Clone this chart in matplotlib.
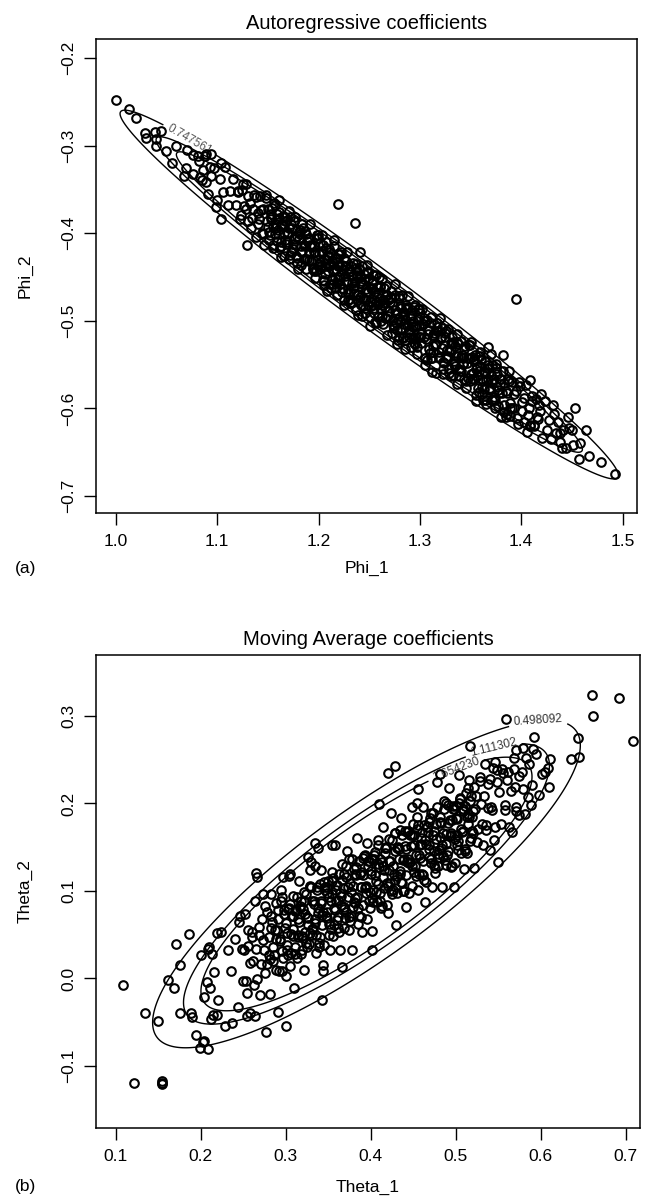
import numpy as np
import matplotlib
matplotlib.use("Agg")
import matplotlib.pyplot as plt

plt.rcParams['font.family'] = ['Liberation Sans', 'DejaVu Sans']

# ---------------- Panel (a): autoregressive coefficients (Phi_1, Phi_2) ----------------
ar_upper_tail = [
    (1.000, -0.248), (1.013, -0.258), (1.020, -0.268), (1.029, -0.286), (1.039, -0.285),
    (1.044, -0.283), (1.030, -0.291), (1.040, -0.292), (1.040, -0.301), (1.049, -0.306),
    (1.059, -0.301), (1.070, -0.305), (1.055, -0.320), (1.076, -0.311), (1.081, -0.312),
    (1.089, -0.310), (1.094, -0.310), (1.069, -0.325), (1.067, -0.335), (1.076, -0.332),
    (1.083, -0.336), (1.086, -0.328), (1.093, -0.324), (1.104, -0.320), (1.089, -0.341),
    (1.099, -0.370), (1.104, -0.384), (1.129, -0.413), (1.219, -0.367), (1.236, -0.388),
    (1.395, -0.475),
]
ar_lower_tail = [
    (1.453, -0.600), (1.464, -0.625), (1.451, -0.642), (1.440, -0.645), (1.457, -0.658),
    (1.467, -0.654), (1.479, -0.661), (1.493, -0.675), (1.438, -0.628), (1.450, -0.625),
    (1.431, -0.596), (1.420, -0.583), (1.458, -0.640), (1.446, -0.610),
    (1.305, -0.550), (1.312, -0.558), (1.277, -0.526), (1.239, -0.493), (1.362, -0.590),
    (1.389, -0.609), (1.409, -0.619), (1.241, -0.421), (1.367, -0.530), (1.382, -0.539),
    (1.409, -0.568),
]
ar_band_1 = [
    (1.082, -0.317), (1.085, -0.339), (1.088, -0.312), (1.091, -0.355), (1.094, -0.335),
    (1.097, -0.326), (1.100, -0.362), (1.103, -0.338), (1.106, -0.353), (1.108, -0.324),
    (1.111, -0.368), (1.113, -0.352), (1.116, -0.338), (1.118, -0.368), (1.120, -0.353),
    (1.122, -0.384), (1.124, -0.351), (1.126, -0.369), (1.128, -0.344), (1.130, -0.386),
    (1.132, -0.365), (1.134, -0.383), (1.136, -0.356), (1.138, -0.404), (1.140, -0.377),
    (1.141, -0.384), (1.142, -0.358), (1.144, -0.400), (1.145, -0.372), (1.146, -0.414),
    (1.148, -0.356), (1.149, -0.386), (1.150, -0.372), (1.152, -0.402), (1.153, -0.384),
    (1.155, -0.414), (1.156, -0.366), (1.157, -0.401), (1.159, -0.378), (1.160, -0.396),
    (1.161, -0.362), (1.163, -0.415), (1.164, -0.390), (1.166, -0.426), (1.167, -0.381),
    (1.168, -0.412), (1.170, -0.400), (1.171, -0.375), (1.172, -0.425), (1.174, -0.394),
    (1.175, -0.412), (1.176, -0.386), (1.178, -0.426), (1.179, -0.403), (1.180, -0.441),
    (1.182, -0.396), (1.183, -0.422), (1.184, -0.389), (1.186, -0.429), (1.187, -0.415),
    (1.188, -0.441), (1.190, -0.407), (1.191, -0.423), (1.192, -0.390), (1.194, -0.440),
    (1.195, -0.415), (1.196, -0.451), (1.198, -0.406), (1.199, -0.437), (1.200, -0.424),
]
ar_band_2 = [
    (1.201, -0.411), (1.202, -0.437), (1.203, -0.402), (1.204, -0.453), (1.205, -0.429),
    (1.206, -0.447), (1.207, -0.410), (1.208, -0.466), (1.209, -0.425), (1.210, -0.438),
    (1.211, -0.422), (1.212, -0.463), (1.213, -0.432), (1.214, -0.458), (1.215, -0.408),
    (1.216, -0.451), (1.217, -0.441), (1.218, -0.471), (1.219, -0.424), (1.220, -0.450),
    (1.221, -0.458), (1.222, -0.421), (1.223, -0.467), (1.224, -0.442), (1.225, -0.482),
    (1.226, -0.437), (1.227, -0.455), (1.228, -0.422), (1.229, -0.468), (1.230, -0.444),
    (1.231, -0.480), (1.232, -0.438), (1.233, -0.457), (1.234, -0.434), (1.235, -0.468),
    (1.236, -0.454), (1.237, -0.488), (1.238, -0.448), (1.239, -0.469), (1.240, -0.441),
    (1.241, -0.457), (1.242, -0.482), (1.243, -0.437), (1.244, -0.474), (1.245, -0.452),
    (1.246, -0.491), (1.247, -0.467), (1.248, -0.436), (1.249, -0.482), (1.250, -0.451),
    (1.251, -0.506), (1.252, -0.462), (1.253, -0.479), (1.254, -0.448), (1.255, -0.491),
    (1.256, -0.467), (1.257, -0.503), (1.258, -0.461), (1.259, -0.481), (1.260, -0.450),
    (1.261, -0.461), (1.262, -0.487), (1.263, -0.452), (1.264, -0.504), (1.265, -0.480),
    (1.266, -0.497), (1.267, -0.460), (1.268, -0.516), (1.269, -0.475), (1.270, -0.489),
    (1.271, -0.473), (1.272, -0.514), (1.273, -0.482), (1.274, -0.508), (1.275, -0.458),
    (1.276, -0.502), (1.277, -0.492), (1.278, -0.522), (1.279, -0.474), (1.280, -0.500),
    (1.281, -0.508), (1.282, -0.471), (1.283, -0.518), (1.284, -0.493), (1.285, -0.532),
    (1.286, -0.487), (1.287, -0.505), (1.288, -0.472), (1.289, -0.519), (1.290, -0.495),
    (1.291, -0.530), (1.292, -0.488), (1.293, -0.507), (1.294, -0.484), (1.295, -0.519),
    (1.296, -0.505), (1.297, -0.538), (1.298, -0.498), (1.299, -0.519), (1.300, -0.491),
]
ar_band_3 = [
    (1.302, -0.486), (1.304, -0.518), (1.305, -0.500), (1.307, -0.545), (1.308, -0.511),
    (1.310, -0.537), (1.311, -0.496), (1.313, -0.529), (1.314, -0.514), (1.316, -0.560),
    (1.317, -0.507), (1.319, -0.541), (1.320, -0.497), (1.322, -0.531), (1.323, -0.555),
    (1.325, -0.519), (1.326, -0.543), (1.328, -0.509), (1.329, -0.555), (1.331, -0.533),
    (1.332, -0.518), (1.334, -0.549), (1.335, -0.529), (1.337, -0.572), (1.338, -0.540),
    (1.340, -0.557), (1.341, -0.523), (1.343, -0.549), (1.344, -0.532), (1.346, -0.577),
    (1.347, -0.542), (1.349, -0.569), (1.350, -0.524), (1.352, -0.560), (1.353, -0.544),
    (1.355, -0.591), (1.356, -0.553), (1.358, -0.581), (1.359, -0.536), (1.361, -0.575),
    (1.362, -0.569), (1.364, -0.546), (1.365, -0.595), (1.367, -0.567), (1.368, -0.579),
    (1.370, -0.538), (1.371, -0.590), (1.373, -0.566), (1.374, -0.599), (1.376, -0.561),
    (1.377, -0.579), (1.379, -0.567), (1.380, -0.610), (1.382, -0.557), (1.383, -0.596),
    (1.385, -0.580), (1.386, -0.606), (1.388, -0.557), (1.389, -0.594), (1.391, -0.570),
    (1.393, -0.600), (1.395, -0.580), (1.397, -0.618), (1.399, -0.574),
    (1.401, -0.593), (1.403, -0.615), (1.405, -0.573), (1.407, -0.607), (1.409, -0.620),
    (1.411, -0.592), (1.413, -0.619), (1.415, -0.589), (1.417, -0.612), (1.419, -0.603),
    (1.421, -0.634), (1.423, -0.591), (1.425, -0.625), (1.427, -0.613), (1.429, -0.635),
    (1.432, -0.606), (1.434, -0.628), (1.436, -0.615), (1.438, -0.638), (1.441, -0.625),
    (1.444, -0.645), (1.447, -0.622),
]
ar_band_4 = [
    (1.151, -0.408), (1.153, -0.382), (1.155, -0.393), (1.157, -0.368), (1.159, -0.409),
    (1.161, -0.383), (1.163, -0.427), (1.165, -0.380), (1.167, -0.408), (1.169, -0.400),
    (1.171, -0.429), (1.173, -0.389), (1.175, -0.418), (1.177, -0.381), (1.179, -0.428),
    (1.181, -0.407), (1.183, -0.415), (1.185, -0.394), (1.187, -0.430), (1.189, -0.409),
    (1.191, -0.406), (1.193, -0.432), (1.195, -0.421), (1.197, -0.443), (1.199, -0.405),
    (1.201, -0.433), (1.203, -0.423), (1.205, -0.455), (1.207, -0.417), (1.209, -0.443),
    (1.211, -0.436), (1.213, -0.453), (1.215, -0.415), (1.217, -0.462), (1.219, -0.438),
    (1.221, -0.448), (1.223, -0.436), (1.225, -0.476), (1.227, -0.432), (1.229, -0.464),
    (1.231, -0.475), (1.233, -0.449), (1.235, -0.460), (1.237, -0.435), (1.239, -0.476),
    (1.241, -0.450), (1.243, -0.494), (1.245, -0.447), (1.247, -0.476), (1.249, -0.467),
    (1.251, -0.496), (1.253, -0.457), (1.255, -0.485), (1.257, -0.448), (1.259, -0.496),
    (1.261, -0.474), (1.263, -0.482), (1.265, -0.462), (1.267, -0.497), (1.269, -0.476),
    (1.271, -0.474), (1.273, -0.499), (1.275, -0.488), (1.277, -0.510), (1.279, -0.472),
    (1.281, -0.500), (1.283, -0.490), (1.285, -0.522), (1.287, -0.484), (1.289, -0.510),
    (1.291, -0.503), (1.293, -0.520), (1.295, -0.482), (1.297, -0.530), (1.299, -0.505),
    (1.301, -0.515), (1.303, -0.504), (1.305, -0.543), (1.307, -0.499), (1.309, -0.532),
    (1.311, -0.542), (1.313, -0.516), (1.315, -0.528), (1.317, -0.502), (1.319, -0.543),
    (1.321, -0.518), (1.323, -0.561), (1.325, -0.514), (1.327, -0.543), (1.329, -0.534),
    (1.331, -0.563), (1.333, -0.524), (1.335, -0.552), (1.337, -0.515), (1.339, -0.563),
    (1.341, -0.541), (1.343, -0.549), (1.345, -0.529), (1.347, -0.565), (1.349, -0.543),
    (1.351, -0.541), (1.353, -0.567), (1.355, -0.555), (1.357, -0.577), (1.359, -0.540),
    (1.361, -0.567), (1.363, -0.557), (1.365, -0.590), (1.367, -0.551), (1.369, -0.577),
    (1.371, -0.571), (1.373, -0.587), (1.375, -0.549), (1.377, -0.597), (1.379, -0.572),
    (1.381, -0.582), (1.383, -0.571), (1.385, -0.610), (1.387, -0.566), (1.389, -0.599),
]
ar_band_5 = [
    (1.1205, -0.352), (1.1230, -0.379), (1.1255, -0.344), (1.1280, -0.372), (1.1305, -0.357),
    (1.1330, -0.394), (1.1355, -0.372), (1.1380, -0.359), (1.1405, -0.389), (1.1430, -0.374),
    (1.1455, -0.401), (1.1480, -0.360), (1.1505, -0.393), (1.1530, -0.378), (1.1555, -0.417),
    (1.1580, -0.389), (1.1605, -0.376), (1.1630, -0.410), (1.1655, -0.400), (1.1680, -0.386),
    (1.1705, -0.394), (1.1730, -0.421), (1.1755, -0.386), (1.1780, -0.414), (1.1805, -0.399),
    (1.1830, -0.436), (1.1855, -0.414), (1.1880, -0.401), (1.1905, -0.431), (1.1930, -0.416),
    (1.1955, -0.443), (1.1980, -0.402), (1.2005, -0.435), (1.2030, -0.420), (1.2055, -0.459),
    (1.2080, -0.431), (1.2105, -0.418), (1.2130, -0.452), (1.2155, -0.442), (1.2180, -0.428),
    (1.2205, -0.436), (1.2230, -0.463), (1.2255, -0.428), (1.2280, -0.456), (1.2305, -0.441),
    (1.2330, -0.478), (1.2355, -0.456), (1.2380, -0.443), (1.2405, -0.473), (1.2430, -0.458),
    (1.2455, -0.485), (1.2480, -0.444), (1.2505, -0.477), (1.2530, -0.462), (1.2555, -0.501),
    (1.2580, -0.473), (1.2605, -0.460), (1.2630, -0.494), (1.2655, -0.484), (1.2680, -0.470),
    (1.2705, -0.478), (1.2730, -0.505), (1.2755, -0.470), (1.2780, -0.498), (1.2805, -0.483),
    (1.2830, -0.520), (1.2855, -0.498), (1.2880, -0.485), (1.2905, -0.515), (1.2930, -0.500),
    (1.2955, -0.527), (1.2980, -0.486), (1.3005, -0.519), (1.3030, -0.504), (1.3055, -0.543),
    (1.3080, -0.515), (1.3105, -0.502), (1.3130, -0.536), (1.3155, -0.526), (1.3180, -0.512),
    (1.3205, -0.520), (1.3230, -0.547), (1.3255, -0.512), (1.3280, -0.540), (1.3305, -0.525),
    (1.3330, -0.562), (1.3355, -0.540), (1.3380, -0.527), (1.3405, -0.557), (1.3430, -0.542),
    (1.3455, -0.569), (1.3480, -0.528), (1.3505, -0.561), (1.3530, -0.546), (1.3555, -0.585),
    (1.3580, -0.557), (1.3605, -0.544), (1.3630, -0.578), (1.3655, -0.568), (1.3680, -0.554),
    (1.3705, -0.562), (1.3730, -0.589), (1.3755, -0.554), (1.3780, -0.582), (1.3805, -0.567),
    (1.3830, -0.604), (1.3855, -0.582), (1.3880, -0.569), (1.3905, -0.599), (1.3930, -0.584),
    (1.3955, -0.611), (1.3980, -0.570), (1.4005, -0.603), (1.4030, -0.588), (1.4055, -0.627),
    (1.4080, -0.599), (1.4105, -0.586), (1.4130, -0.620), (1.4155, -0.610), (1.4180, -0.596),
]
ar_band_6 = [
    (1.1515, -0.399), (1.1540, -0.371), (1.1565, -0.394), (1.1590, -0.384), (1.1615, -0.416),
    (1.1640, -0.392), (1.1665, -0.386), (1.1690, -0.410), (1.1715, -0.382), (1.1740, -0.422),
    (1.1765, -0.407), (1.1790, -0.434), (1.1815, -0.401), (1.1840, -0.420), (1.1865, -0.398),
    (1.1890, -0.429), (1.1915, -0.413), (1.1940, -0.441), (1.1965, -0.422), (1.1990, -0.402),
    (1.2015, -0.441), (1.2040, -0.413), (1.2065, -0.437), (1.2090, -0.426), (1.2115, -0.458),
    (1.2140, -0.434), (1.2165, -0.428), (1.2190, -0.452), (1.2215, -0.424), (1.2240, -0.464),
    (1.2265, -0.449), (1.2290, -0.476), (1.2315, -0.443), (1.2340, -0.462), (1.2365, -0.440),
    (1.2390, -0.471), (1.2415, -0.455), (1.2440, -0.483), (1.2465, -0.464), (1.2490, -0.444),
    (1.2515, -0.483), (1.2540, -0.455), (1.2565, -0.479), (1.2590, -0.468), (1.2615, -0.500),
    (1.2640, -0.476), (1.2665, -0.470), (1.2690, -0.494), (1.2715, -0.466), (1.2740, -0.506),
    (1.2765, -0.491), (1.2790, -0.518), (1.2815, -0.485), (1.2840, -0.504), (1.2865, -0.482),
    (1.2890, -0.513), (1.2915, -0.497), (1.2940, -0.525), (1.2965, -0.506), (1.2990, -0.486),
    (1.3015, -0.525), (1.3040, -0.497), (1.3065, -0.521), (1.3090, -0.510), (1.3115, -0.542),
    (1.3140, -0.518), (1.3165, -0.512), (1.3190, -0.536), (1.3215, -0.508), (1.3240, -0.548),
    (1.3265, -0.533), (1.3290, -0.560), (1.3315, -0.527), (1.3340, -0.546), (1.3365, -0.524),
    (1.3390, -0.555), (1.3415, -0.539), (1.3440, -0.567), (1.3465, -0.548), (1.3490, -0.528),
    (1.3515, -0.567), (1.3540, -0.539), (1.3565, -0.563), (1.3590, -0.552), (1.3615, -0.584),
    (1.3640, -0.560), (1.3665, -0.554), (1.3690, -0.578), (1.3715, -0.550), (1.3740, -0.590),
    (1.3765, -0.575),
]

# Fitted density contours (panel a)
ar_center = (1.250, -0.470)
ar_sd = (0.1005, 0.0860)
ar_rho = -0.981
ar_peak = 14.94
ar_levels = [0.747561, 1.668380, 2.482730]
ar_xticks = [1.0, 1.1, 1.2, 1.3, 1.4, 1.5]
ar_yticks = [-0.7, -0.6, -0.5, -0.4, -0.3, -0.2]

# ---------------- Panel (b): moving average coefficients (Theta_1, Theta_2) ----------------
ma_outliers = [
    (0.109, -0.007), (0.121, -0.119), (0.154, -0.117), (0.154, -0.121), (0.155, -0.119),
    (0.134, -0.039), (0.150, -0.049), (0.161, -0.002), (0.169, -0.011), (0.176, 0.015),
    (0.171, 0.039), (0.186, 0.051), (0.176, -0.039), (0.189, -0.039), (0.190, -0.044),
    (0.195, -0.065), (0.199, -0.079), (0.209, -0.081), (0.204, -0.072), (0.203, -0.073),
    (0.210, 0.036), (0.213, 0.028), (0.219, 0.052), (0.237, -0.051), (0.277, -0.061),
    (0.300, -0.054), (0.291, -0.038), (0.246, 0.071), (0.245, 0.064), (0.265, 0.121),
    (0.266, 0.116), (0.273, 0.097), (0.283, 0.096), (0.296, 0.093), (0.297, 0.116),
    (0.305, 0.119), (0.326, 0.139), (0.330, 0.133), (0.335, 0.155), (0.338, 0.149),
    (0.354, 0.153), (0.410, 0.199), (0.420, 0.235), (0.429, 0.243), (0.343, -0.025),
    (0.401, 0.033), (0.366, 0.013), (0.344, 0.008), (0.559, 0.296), (0.517, 0.266),
    (0.592, 0.276), (0.571, 0.261), (0.579, 0.263), (0.591, 0.262), (0.569, 0.252),
    (0.583, 0.252), (0.546, 0.247), (0.611, 0.251), (0.608, 0.240), (0.605, 0.236),
    (0.602, 0.234), (0.610, 0.219), (0.589, 0.198), (0.585, 0.207), (0.575, 0.231),
    (0.579, 0.217), (0.571, 0.191), (0.482, 0.234), (0.456, 0.217), (0.660, 0.324),
    (0.692, 0.321), (0.662, 0.300), (0.708, 0.271), (0.644, 0.275), (0.645, 0.253),
    (0.636, 0.251), (0.214, -0.042), (0.219, -0.042), (0.254, -0.043), (0.264, -0.043),
    (0.207, -0.004), (0.211, -0.011),
]
ma_cloud_1 = [
    (0.200, 0.027), (0.204, -0.021), (0.208, 0.034), (0.212, -0.046), (0.216, 0.007),
    (0.220, -0.025), (0.224, 0.053), (0.228, -0.054), (0.232, 0.032), (0.236, 0.009),
    (0.240, 0.045), (0.244, -0.033), (0.248, 0.034),
    (0.250, -0.003), (0.252, 0.074), (0.254, -0.017), (0.256, 0.037), (0.258, -0.040),
    (0.260, 0.053), (0.262, 0.020), (0.264, 0.089), (0.266, -0.001), (0.268, 0.050),
    (0.270, -0.019), (0.272, 0.068), (0.274, 0.033), (0.276, 0.083), (0.278, 0.016),
    (0.280, 0.047), (0.282, -0.018), (0.284, 0.065), (0.286, 0.027), (0.288, 0.086),
    (0.290, 0.055), (0.292, 0.008), (0.294, 0.101), (0.296, 0.031), (0.298, 0.078),
    (0.300, 0.003), (0.302, 0.052), (0.304, 0.117), (0.306, 0.029), (0.308, 0.094),
    (0.310, -0.011), (0.312, 0.078), (0.314, 0.047), (0.316, 0.111), (0.318, 0.028),
    (0.320, 0.079), (0.322, 0.010), (0.324, 0.097), (0.326, 0.061), (0.328, 0.124),
    (0.330, 0.105), (0.332, 0.056), (0.334, 0.129), (0.336, 0.029), (0.338, 0.080),
    (0.340, 0.047), (0.342, 0.124), (0.344, 0.015), (0.346, 0.101), (0.348, 0.076),
    (0.350, 0.111), (0.352, 0.032), (0.354, 0.097), (0.356, 0.049), (0.358, 0.152),
    (0.360, 0.067), (0.362, 0.090), (0.364, 0.033), (0.366, 0.131), (0.368, 0.082),
    (0.370, 0.069), (0.372, 0.146), (0.374, 0.055), (0.376, 0.109), (0.378, 0.032),
    (0.380, 0.125), (0.382, 0.092), (0.384, 0.161), (0.386, 0.071), (0.388, 0.122),
    (0.390, 0.053), (0.392, 0.140), (0.394, 0.105), (0.396, 0.155), (0.398, 0.088),
    (0.400, 0.119), (0.402, 0.054), (0.404, 0.137), (0.406, 0.099), (0.408, 0.158),
]
ma_cloud_2 = [
    (0.410, 0.127), (0.412, 0.080), (0.414, 0.173), (0.416, 0.103), (0.418, 0.150),
    (0.420, 0.075), (0.422, 0.124), (0.424, 0.189), (0.426, 0.101), (0.428, 0.166),
    (0.430, 0.061), (0.432, 0.150), (0.434, 0.119), (0.436, 0.183), (0.438, 0.100),
    (0.440, 0.151), (0.442, 0.082), (0.444, 0.169), (0.446, 0.133), (0.448, 0.196),
    (0.450, 0.177), (0.452, 0.128), (0.454, 0.201), (0.456, 0.101), (0.458, 0.152),
    (0.460, 0.119), (0.462, 0.196), (0.464, 0.087), (0.466, 0.173), (0.468, 0.148),
    (0.470, 0.183), (0.472, 0.104), (0.474, 0.169), (0.476, 0.121), (0.478, 0.224),
    (0.480, 0.139), (0.482, 0.162), (0.484, 0.105), (0.486, 0.203), (0.488, 0.154),
    (0.490, 0.141), (0.492, 0.218), (0.494, 0.127), (0.496, 0.181), (0.498, 0.104),
    (0.500, 0.197), (0.502, 0.164), (0.504, 0.233), (0.506, 0.143), (0.508, 0.194),
    (0.510, 0.125), (0.512, 0.212), (0.514, 0.177), (0.516, 0.227), (0.518, 0.160),
    (0.520, 0.191), (0.522, 0.126), (0.524, 0.209), (0.526, 0.171), (0.528, 0.230),
    (0.530, 0.199), (0.532, 0.152), (0.534, 0.245), (0.536, 0.175), (0.538, 0.222),
    (0.540, 0.147), (0.542, 0.196), (0.544, 0.241), (0.546, 0.173), (0.548, 0.238),
    (0.550, 0.133), (0.554, 0.239), (0.558, 0.192), (0.562, 0.236), (0.566, 0.167),
    (0.570, 0.219), (0.574, 0.187), (0.578, 0.236), (0.582, 0.188), (0.586, 0.245),
    (0.590, 0.221), (0.594, 0.257), (0.598, 0.210),
]
ma_cloud_3 = [
    (0.281, 0.022), (0.283, 0.071), (0.285, 0.036), (0.287, 0.055), (0.289, 0.010),
    (0.291, 0.068), (0.293, 0.045), (0.295, 0.088), (0.297, 0.023), (0.299, 0.058),
    (0.301, 0.038), (0.303, 0.079), (0.305, 0.014), (0.307, 0.071), (0.309, 0.056),
    (0.311, 0.036), (0.313, 0.093), (0.315, 0.050), (0.317, 0.081), (0.319, 0.032),
    (0.321, 0.088), (0.323, 0.053), (0.325, 0.070), (0.327, 0.039), (0.329, 0.104),
    (0.331, 0.050), (0.333, 0.085), (0.335, 0.068), (0.337, 0.101), (0.339, 0.036),
    (0.341, 0.086), (0.343, 0.061), (0.345, 0.110), (0.347, 0.071), (0.349, 0.098),
    (0.351, 0.050), (0.353, 0.089), (0.355, 0.122), (0.357, 0.061), (0.359, 0.088),
    (0.361, 0.070), (0.363, 0.119), (0.365, 0.084), (0.367, 0.103), (0.369, 0.058),
    (0.371, 0.116), (0.373, 0.093), (0.375, 0.136), (0.377, 0.071), (0.379, 0.106),
    (0.381, 0.086), (0.383, 0.127), (0.385, 0.062), (0.387, 0.119), (0.389, 0.104),
    (0.391, 0.084), (0.393, 0.141), (0.395, 0.098), (0.397, 0.129), (0.399, 0.080),
    (0.401, 0.136), (0.403, 0.101), (0.405, 0.118), (0.407, 0.087), (0.409, 0.152),
    (0.411, 0.098), (0.413, 0.133), (0.415, 0.116), (0.417, 0.149), (0.419, 0.084),
    (0.421, 0.134), (0.423, 0.109), (0.425, 0.158), (0.427, 0.119), (0.429, 0.146),
    (0.431, 0.098), (0.433, 0.137), (0.435, 0.170), (0.437, 0.109), (0.439, 0.136),
    (0.441, 0.118), (0.443, 0.167), (0.445, 0.132), (0.447, 0.151), (0.449, 0.106),
    (0.451, 0.164), (0.453, 0.141), (0.455, 0.184), (0.457, 0.119), (0.459, 0.154),
    (0.461, 0.134), (0.463, 0.175), (0.465, 0.110), (0.467, 0.167), (0.469, 0.152),
    (0.471, 0.132), (0.473, 0.189), (0.475, 0.146), (0.477, 0.177), (0.479, 0.128),
    (0.481, 0.184), (0.483, 0.149), (0.485, 0.166), (0.487, 0.135), (0.489, 0.200),
    (0.491, 0.146), (0.493, 0.181), (0.495, 0.164), (0.497, 0.197), (0.499, 0.132),
    (0.501, 0.182), (0.503, 0.157), (0.505, 0.206), (0.507, 0.167), (0.509, 0.194),
    (0.511, 0.146), (0.513, 0.185), (0.515, 0.218), (0.517, 0.157), (0.519, 0.184),
]
ma_cloud_4 = [
    (0.2505, 0.033), (0.2530, -0.003), (0.2555, 0.055), (0.2580, 0.018), (0.2605, 0.047),
    (0.2630, -0.007), (0.2655, 0.034), (0.2680, 0.059), (0.2705, 0.016), (0.2730, 0.044),
    (0.2755, 0.006), (0.2780, 0.076), (0.2805, 0.027), (0.2830, 0.058), (0.2855, 0.020),
    (0.2880, 0.045), (0.2905, 0.078), (0.2930, 0.043), (0.2955, 0.008), (0.2980, 0.074),
    (0.3005, 0.063), (0.3030, 0.027), (0.3055, 0.085), (0.3080, 0.048), (0.3105, 0.077),
    (0.3130, 0.023), (0.3155, 0.064), (0.3180, 0.089), (0.3205, 0.046), (0.3230, 0.074),
    (0.3255, 0.036), (0.3280, 0.106), (0.3305, 0.057), (0.3330, 0.088), (0.3355, 0.050),
    (0.3380, 0.075), (0.3405, 0.108), (0.3430, 0.073), (0.3455, 0.038), (0.3480, 0.104),
    (0.3505, 0.093), (0.3530, 0.057), (0.3555, 0.115), (0.3580, 0.078), (0.3605, 0.107),
    (0.3630, 0.053), (0.3655, 0.094), (0.3680, 0.119), (0.3705, 0.076), (0.3730, 0.104),
    (0.3755, 0.066), (0.3780, 0.136), (0.3805, 0.087), (0.3830, 0.118), (0.3855, 0.080),
    (0.3880, 0.105), (0.3905, 0.138), (0.3930, 0.103), (0.3955, 0.068), (0.3980, 0.134),
    (0.4005, 0.123), (0.4030, 0.087), (0.4055, 0.145), (0.4080, 0.108), (0.4105, 0.137),
    (0.4130, 0.083), (0.4155, 0.124), (0.4180, 0.149), (0.4205, 0.106), (0.4230, 0.134),
    (0.4255, 0.096), (0.4280, 0.166), (0.4305, 0.117), (0.4330, 0.148), (0.4355, 0.110),
    (0.4380, 0.135), (0.4405, 0.168), (0.4430, 0.133), (0.4455, 0.098), (0.4480, 0.164),
    (0.4505, 0.153), (0.4530, 0.117), (0.4555, 0.175), (0.4580, 0.138), (0.4605, 0.167),
    (0.4630, 0.113), (0.4655, 0.154), (0.4680, 0.179), (0.4705, 0.136), (0.4730, 0.164),
    (0.4755, 0.126), (0.4780, 0.196), (0.4805, 0.147), (0.4830, 0.178), (0.4855, 0.140),
    (0.4880, 0.165), (0.4905, 0.198), (0.4930, 0.163), (0.4955, 0.128), (0.4980, 0.194),
    (0.5005, 0.183), (0.5030, 0.147), (0.5055, 0.205), (0.5080, 0.168), (0.5105, 0.197),
    (0.5130, 0.143), (0.5155, 0.184), (0.5180, 0.209), (0.5205, 0.166), (0.5230, 0.194),
    (0.5255, 0.156), (0.5280, 0.226), (0.5305, 0.177), (0.5330, 0.208), (0.5355, 0.170),
    (0.5380, 0.195), (0.5405, 0.228), (0.5430, 0.193), (0.5455, 0.158), (0.5480, 0.224),
    (0.5505, 0.213), (0.5530, 0.177), (0.5555, 0.235), (0.5580, 0.198), (0.5605, 0.227),
    (0.5630, 0.173), (0.5655, 0.214), (0.5680, 0.239), (0.5705, 0.196),
]
ma_cloud_5 = [
    (0.3015, 0.032), (0.3040, 0.081), (0.3065, 0.051), (0.3090, 0.071), (0.3115, 0.028),
    (0.3140, 0.068), (0.3165, 0.083), (0.3190, 0.049), (0.3215, 0.099), (0.3240, 0.040),
    (0.3265, 0.069), (0.3290, 0.052), (0.3315, 0.089), (0.3340, 0.063), (0.3365, 0.104),
    (0.3390, 0.040), (0.3415, 0.088), (0.3440, 0.076), (0.3465, 0.104), (0.3490, 0.069),
    (0.3515, 0.062), (0.3540, 0.111), (0.3565, 0.081), (0.3590, 0.101), (0.3615, 0.058),
    (0.3640, 0.098), (0.3665, 0.113), (0.3690, 0.079), (0.3715, 0.129), (0.3740, 0.070),
    (0.3765, 0.099), (0.3790, 0.082), (0.3815, 0.119), (0.3840, 0.093), (0.3865, 0.134),
    (0.3890, 0.070), (0.3915, 0.118), (0.3940, 0.106), (0.3965, 0.134), (0.3990, 0.099),
    (0.4015, 0.092), (0.4040, 0.141), (0.4065, 0.111), (0.4090, 0.131), (0.4115, 0.088),
    (0.4140, 0.128), (0.4165, 0.143), (0.4190, 0.109), (0.4215, 0.159), (0.4240, 0.100),
    (0.4265, 0.129), (0.4290, 0.112), (0.4315, 0.149), (0.4340, 0.123), (0.4365, 0.164),
    (0.4390, 0.100), (0.4415, 0.148), (0.4440, 0.136), (0.4465, 0.164), (0.4490, 0.129),
    (0.4515, 0.122), (0.4540, 0.171), (0.4565, 0.141), (0.4590, 0.161), (0.4615, 0.118),
    (0.4640, 0.158), (0.4665, 0.173), (0.4690, 0.139), (0.4715, 0.189), (0.4740, 0.130),
    (0.4765, 0.159), (0.4790, 0.142), (0.4815, 0.179), (0.4840, 0.153), (0.4865, 0.194),
    (0.4890, 0.130), (0.4915, 0.178), (0.4940, 0.166), (0.4965, 0.194), (0.4990, 0.159),
    (0.5015, 0.152), (0.5040, 0.201), (0.5065, 0.171), (0.5090, 0.191), (0.5115, 0.148),
    (0.5140, 0.188), (0.5165, 0.203), (0.5190, 0.169), (0.5215, 0.219),
]

# Fitted density contours (panel b)
ma_center = (0.395, 0.108)
ma_sd = (0.1028, 0.0765)
ma_rho = 0.846
ma_peak = 9.95
ma_levels = [0.498092, 1.111302, 1.654230]
ma_xticks = [0.1, 0.2, 0.3, 0.4, 0.5, 0.6, 0.7]
ma_yticks = [-0.1, 0.0, 0.1, 0.2, 0.3]


def density_surface(X, Y, center, sd, rho, peak):
    zx = (X - center[0]) / sd[0]
    zy = (Y - center[1]) / sd[1]
    q = (zx ** 2 - 2 * rho * zx * zy + zy ** 2) / (1 - rho ** 2)
    return peak * np.exp(-0.5 * q)


def style_axes(ax, xticks, yticks, xlim, ylim):
    ax.set_xlim(*xlim)
    ax.set_ylim(*ylim)
    ax.set_xticks(xticks)
    ax.set_yticks(yticks)
    ax.set_xticklabels([f"{v:.1f}" for v in xticks])
    ax.set_yticklabels([f"{v:.1f}".replace("-", "\u2212") if v != 0 else "0.0" for v in yticks])
    for s in ax.spines.values():
        s.set_linewidth(1.1)
    ax.tick_params(direction='out', length=8.6, width=1.0, labelsize=12.5, colors='black')
    ax.tick_params(axis='x', pad=6.5)
    ax.tick_params(axis='y', pad=5.5)
    for lab in ax.get_yticklabels():
        lab.set_rotation(90)
        lab.set_verticalalignment('center')


def scatter(ax, groups):
    xs, ys = [], []
    for g in groups:
        for (a, b) in g:
            xs.append(a)
            ys.append(b)
    ax.plot(xs, ys, linestyle='none', marker='o', markersize=6.2,
            markerfacecolor='none', markeredgecolor='black', markeredgewidth=1.5, zorder=4)


fig = plt.figure(figsize=(6.48, 11.97), dpi=100)
W, H = 648.0, 1197.0

# ---- panel (a)
ax1 = fig.add_axes([96 / W, 1 - 513 / H, 541 / W, 474 / H])
a_xlim = (0.9803, 1.5143)
a_ylim = (-0.7194, -0.1783)
gx = np.linspace(a_xlim[0], a_xlim[1], 500)
gy = np.linspace(a_ylim[0], a_ylim[1], 500)
GX, GY = np.meshgrid(gx, gy)
Z1 = density_surface(GX, GY, ar_center, ar_sd, ar_rho, ar_peak)
cs1 = ax1.contour(GX, GY, Z1, levels=ar_levels, colors='black', linewidths=1.0, zorder=2)
ax1.clabel(cs1, levels=[ar_levels[0]], fmt={ar_levels[0]: "0.747561"}, fontsize=8.5,
           colors='#555555', inline=True, manual=[(1.07, -0.298)])
scatter(ax1, [ar_upper_tail, ar_band_1, ar_band_2, ar_band_3, ar_band_4, ar_band_5,
              ar_band_6, ar_lower_tail])
style_axes(ax1, ar_xticks, ar_yticks, a_xlim, a_ylim)
ax1.set_title("Autoregressive coefficients", fontsize=14.5, pad=7)
ax1.set_xlabel("Phi_1", fontsize=12.5, va='center')
ax1.xaxis.set_label_coords(0.5, -(568 - 513) / 474)
ax1.set_ylabel("Phi_2", fontsize=12.5, va='center')
ax1.yaxis.set_label_coords(-(96 - 25) / 541, 0.5)
fig.text(26 / W, 1 - 568 / H, "(a)", fontsize=12.5, ha='center', va='center')

# ---- panel (b)
ax2 = fig.add_axes([96 / W, 1 - 1128 / H, 544 / W, 473 / H])
b_xlim = (0.0768, 0.7168)
b_ylim = (-0.1709, 0.3697)
gx = np.linspace(b_xlim[0], b_xlim[1], 500)
gy = np.linspace(b_ylim[0], b_ylim[1], 500)
GX, GY = np.meshgrid(gx, gy)
Z2 = density_surface(GX, GY, ma_center, ma_sd, ma_rho, ma_peak)
cs2 = ax2.contour(GX, GY, Z2, levels=ma_levels, colors='black', linewidths=1.0, zorder=2)
ax2.clabel(cs2, levels=ma_levels,
           fmt={ma_levels[0]: "0.498092", ma_levels[1]: "1.111302", ma_levels[2]: "1.654230"},
           fontsize=8.5, colors='#333333', inline=True,
           manual=[(0.597, 0.294), (0.545, 0.260), (0.500, 0.239)])
scatter(ax2, [ma_outliers, ma_cloud_1, ma_cloud_2, ma_cloud_3, ma_cloud_4, ma_cloud_5])
style_axes(ax2, ma_xticks, ma_yticks, b_xlim, b_ylim)
ax2.set_title("Moving Average coefficients", fontsize=14.5, pad=7)
ax2.set_xlabel("Theta_1", fontsize=12.5, va='center')
ax2.xaxis.set_label_coords(0.5, -(1187 - 1128) / 473)
ax2.set_ylabel("Theta_2", fontsize=12.5, va='center')
ax2.yaxis.set_label_coords(-(96 - 25) / 544, 0.5)
fig.text(26 / W, 1 - 1187 / H, "(b)", fontsize=12.5, ha='center', va='center')

fig.savefig("out.png", dpi=100)
